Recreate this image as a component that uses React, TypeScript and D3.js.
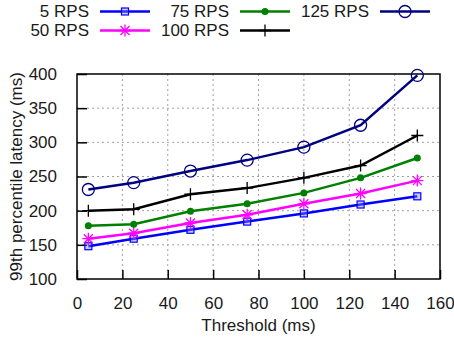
import * as d3 from 'd3';
import { useEffect, useRef } from 'react';

const thresholds = [5, 25, 50, 75, 100, 125, 150];
const seriesNames = ['5 RPS', '50 RPS', '75 RPS', '100 RPS', '125 RPS'];
const rps5 = [148, 159, 172, 184, 196, 209, 221];
const rps50 = [159, 167, 182, 194, 210, 225, 244];
const rps75 = [178, 180, 199, 210, 226, 248, 277];
const rps100 = [200, 202, 224, 233, 248, 266, 310];
const rps125 = [231, 241, 258, 274, 293, 325, 398];
const xTicks = [0, 20, 40, 60, 80, 100, 120, 140, 160];
const yTicks = [100, 150, 200, 250, 300, 350, 400];

const colors = ['#0000ff', '#ff00ff', '#008000', '#000000', '#000080'];
const markers = ['square', 'star', 'dot', 'plus', 'circle'];

export default function App() {
  const w = 454;
  const h = 339;
  const svgRef = useRef<SVGSVGElement>(null);

  useEffect(() => {
    if (svgRef.current == null) {
      return;
    }
    const svg = d3.select(svgRef.current);
    svg.selectAll('*').remove();
    const font = '"Liberation Sans", Arial, sans-serif';

    const left = 77;
    const right = 440;
    const top = 74;
    const bottom = 279;

    const x = d3.scaleLinear().domain([0, 160]).range([left, right]);
    const y = d3.scaleLinear().domain([100, 400]).range([bottom, top]);

    // grid
    for (const t of xTicks.slice(1, -1)) {
      svg
        .append('line')
        .attr('x1', x(t))
        .attr('x2', x(t))
        .attr('y1', top)
        .attr('y2', bottom)
        .attr('stroke', '#a0a0a0')
        .attr('stroke-width', 1)
        .attr('stroke-dasharray', '2,3');
    }
    for (const t of yTicks.slice(1, -1)) {
      svg
        .append('line')
        .attr('x1', left)
        .attr('x2', right)
        .attr('y1', y(t))
        .attr('y2', y(t))
        .attr('stroke', '#a0a0a0')
        .attr('stroke-width', 1)
        .attr('stroke-dasharray', '2,3');
    }

    // axes with inward ticks
    const xAxis = svg
      .append('g')
      .attr('transform', `translate(0, ${bottom})`)
      .call(d3.axisBottom(x).tickValues(xTicks).tickSizeInner(-9).tickSizeOuter(0).tickPadding(18));
    const yAxis = svg
      .append('g')
      .attr('transform', `translate(${left}, 0)`)
      .call(d3.axisLeft(y).tickValues(yTicks).tickSizeInner(-10).tickSizeOuter(0).tickPadding(20));
    for (const g of [xAxis, yAxis]) {
      g.select('.domain').remove();
      g.selectAll('line').attr('stroke', '#000').attr('stroke-width', 1.5);
      g.selectAll('text').style('font', `17px ${font}`).attr('fill', '#1a1a1a');
    }

    svg
      .append('rect')
      .attr('x', left)
      .attr('y', top)
      .attr('width', right - left)
      .attr('height', bottom - top)
      .attr('fill', 'none')
      .attr('stroke', '#000')
      .attr('stroke-width', 1.5);

    function drawMarker(g: d3.Selection<SVGGElement, unknown, null, undefined>, kind: string, cx: number, cy: number, color: string) {
      if (kind === 'square') {
        g.append('rect')
          .attr('x', cx - 3.5)
          .attr('y', cy - 3.5)
          .attr('width', 7)
          .attr('height', 7)
          .attr('fill', '#8080ff')
          .attr('fill-opacity', 0.4)
          .attr('stroke', color)
          .attr('stroke-width', 1.2);
      } else if (kind === 'dot') {
        g.append('circle').attr('cx', cx).attr('cy', cy).attr('r', 3.5).attr('fill', color);
      } else if (kind === 'circle') {
        g.append('circle')
          .attr('cx', cx)
          .attr('cy', cy)
          .attr('r', 6)
          .attr('fill', 'none')
          .attr('stroke', color)
          .attr('stroke-width', 1.3);
      } else if (kind === 'plus') {
        g.append('path')
          .attr('d', `M${cx - 6},${cy}H${cx + 6}M${cx},${cy - 6}V${cy + 6}`)
          .attr('stroke', color)
          .attr('stroke-width', 1.3);
      } else if (kind === 'star') {
        g.append('path')
          .attr(
            'd',
            `M${cx - 6},${cy}H${cx + 6}M${cx},${cy - 6}V${cy + 6}` +
              `M${cx - 4.5},${cy - 4.5}L${cx + 4.5},${cy + 4.5}M${cx - 4.5},${cy + 4.5}L${cx + 4.5},${cy - 4.5}`
          )
          .attr('stroke', color)
          .attr('stroke-width', 1.3);
      }
    }

    const series = [rps5, rps50, rps75, rps100, rps125];
    const line = d3
      .line<number>()
      .x((_, i) => x(thresholds[i]))
      .y((d) => y(d));

    for (const [index, values] of series.entries()) {
      const g = svg.append('g');
      g.append('path')
        .attr('d', line(values))
        .attr('fill', 'none')
        .attr('stroke', colors[index])
        .attr('stroke-width', 2.5);
      values.forEach((v, i) => drawMarker(g, markers[index], x(thresholds[i]), y(v), colors[index]));
    }

    // legend: 3 columns, filled row by row in gnuplot order
    const legendOrder = [0, 2, 4, 1, 3];
    legendOrder.forEach((s, k) => {
      const col = k < 3 ? k : k - 3;
      const row = k < 3 ? 0 : 1;
      const textX = 89 + col * 140;
      const baseY = 17 + row * 19;
      const lineY = baseY - 5.5;
      const g = svg.append('g');
      g.append('text')
        .attr('x', textX)
        .attr('y', baseY)
        .attr('text-anchor', 'end')
        .style('font', `17px ${font}`)
        .attr('fill', '#1a1a1a')
        .text(seriesNames[s]);
      g.append('line')
        .attr('x1', textX + 11)
        .attr('x2', textX + 61)
        .attr('y1', lineY)
        .attr('y2', lineY)
        .attr('stroke', colors[s])
        .attr('stroke-width', 2.5);
      drawMarker(g, markers[s], textX + 36, lineY, colors[s]);
    });

    svg
      .append('text')
      .attr('x', (left + right) / 2)
      .attr('y', 331)
      .attr('text-anchor', 'middle')
      .style('font', `17px ${font}`)
      .attr('fill', '#1a1a1a')
      .text('Threshold (ms)');

    svg
      .append('text')
      .attr('transform', `translate(22, ${(top + bottom) / 2}) rotate(-90)`)
      .attr('text-anchor', 'middle')
      .style('font', `17px ${font}`)
      .attr('fill', '#1a1a1a')
      .text('99th percentile latency (ms)');
  }, []);

  return (
    <svg
      ref={svgRef}
      width={w}
      height={h}
      style={{ position: 'absolute', left: 0, top: 0, background: '#fff' }}
    ></svg>
  );
}
